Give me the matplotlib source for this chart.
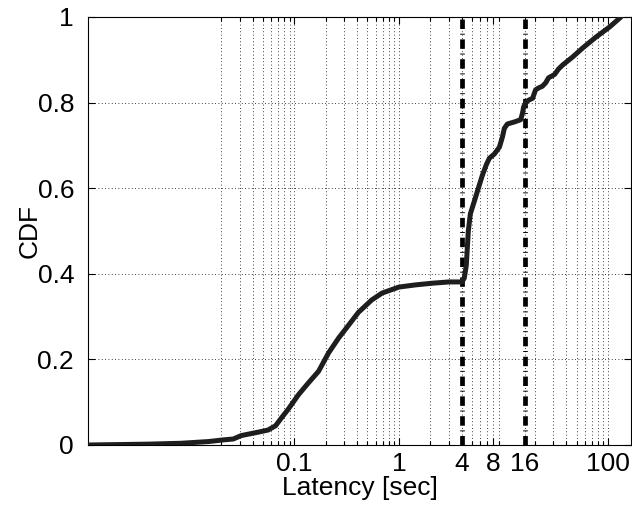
import matplotlib
matplotlib.use("Agg")
import matplotlib.pyplot as plt
from matplotlib.ticker import FixedLocator, NullFormatter

plt.rcParams['font.family'] = ['Liberation Sans', 'DejaVu Sans']

# CDF curve (latency in seconds, cumulative fraction)
latency = [0.00107, 0.004, 0.0082, 0.015, 0.021, 0.026, 0.031, 0.045, 0.056,
           0.066, 0.075, 0.0875, 0.109, 0.136, 0.170, 0.212, 0.265, 0.33,
           0.41, 0.55, 0.69, 1.0, 1.43, 2.08, 3.02, 4.0, 4.1, 4.22, 4.41,
           4.61, 4.82, 5.27, 5.75, 6.28, 6.86, 7.33, 8.19, 9.15, 9.78, 10.2,
           10.9, 12.8, 14.6, 15.2, 15.6, 16.3, 17.5, 19.0, 20.3, 22.0, 23.5,
           25.3, 27.0, 29.0, 30.9, 33.5, 36.9, 46.1, 57.5, 76.7, 104, 133]
cdf = [0.0, 0.002, 0.004, 0.008, 0.012, 0.014, 0.022, 0.03, 0.035,
       0.045, 0.063, 0.084, 0.117, 0.145, 0.172, 0.215, 0.25, 0.28,
       0.31, 0.339, 0.355, 0.369, 0.374, 0.378, 0.381, 0.381, 0.385, 0.39,
       0.42, 0.50, 0.54, 0.57, 0.60, 0.63, 0.655, 0.67, 0.68, 0.696, 0.72,
       0.74, 0.75, 0.755, 0.76, 0.775, 0.79, 0.80, 0.806, 0.81, 0.83, 0.835,
       0.838, 0.846, 0.858, 0.862, 0.866, 0.878, 0.888, 0.907, 0.928, 0.953,
       0.977, 1.0]

# Threshold markers
thresholds = [4, 16]

xticks = [0.1, 1, 4, 8, 16, 100]
xticklabels = ['0.1', '1', '4', '8', '16', '100']
yticks = [0, 0.2, 0.4, 0.6, 0.8, 1]
yticklabels = ['0', '0.2', '0.4', '0.6', '0.8', '1']

fig = plt.figure(figsize=(6.32, 5.08), dpi=100)
ax = fig.add_axes([88/632, 63/508, 543/632, 428/508])

ax.set_xscale('log')
ax.set_xlim(0.00106, 166)
ax.set_ylim(0, 1)

minor = [m * d for d in [0.01, 0.1, 1, 10] for m in range(2, 10)]
ax.xaxis.set_major_locator(FixedLocator(xticks))
ax.set_xticklabels(xticklabels)
ax.xaxis.set_minor_locator(FixedLocator(minor))
ax.xaxis.set_minor_formatter(NullFormatter())
ax.set_yticks(yticks)
ax.set_yticklabels(yticklabels)

grid_kw = dict(color='black', linestyle=(0, (1, 3)), linewidth=0.6)
ax.grid(True, which='major', axis='both', **grid_kw)
ax.grid(True, which='minor', axis='x', **grid_kw)

ax.tick_params(which='both', direction='in', top=True, right=True,
               labelsize=19, width=0.8, colors='black')
ax.tick_params(which='major', length=5, pad=5)
ax.tick_params(which='minor', length=3)
ax.tick_params(axis='y', pad=10)

for t in thresholds:
    ax.plot([t, t], [0, 1], color='black', linewidth=3.4,
            linestyle=(0, (2.0, 1.0, 0.2, 1.0)), zorder=3)

ax.plot(latency, cdf, color='#1e1e1e', linewidth=3.6, solid_capstyle='round',
        solid_joinstyle='round', zorder=4)

for s in ax.spines.values():
    s.set_linewidth(0.8)

ax.set_xlabel('Latency [sec]', fontsize=19, labelpad=0)
ax.set_ylabel('CDF', fontsize=19, labelpad=-3)

fig.savefig('out.png', dpi=100)
